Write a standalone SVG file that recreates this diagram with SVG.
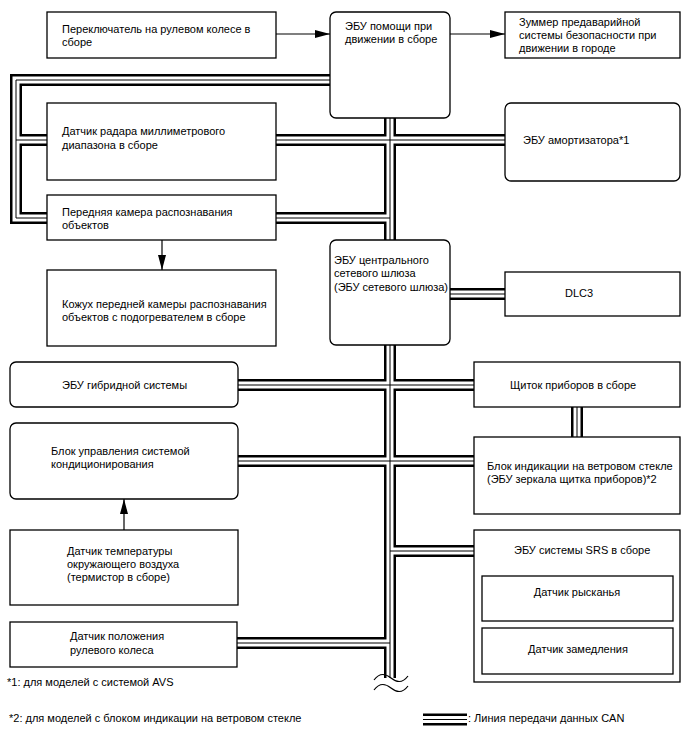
<svg xmlns="http://www.w3.org/2000/svg" xmlns:xlink="http://www.w3.org/1999/xlink" width="688" height="755" viewBox="0 0 688 755">
<style>
.box{fill:#fff;stroke:#000;stroke-width:1.3}
.t{font-family:"Liberation Sans",Arial,sans-serif;font-size:11px;fill:#000}
.tc{text-anchor:middle}
.busO{fill:none;stroke:#000;stroke-width:12}
.busW{fill:none;stroke:#fff;stroke-width:7}
.busC{fill:none;stroke:#000;stroke-width:1}
.wire{fill:none;stroke:#000;stroke-width:1.2}
.brk{fill:none;stroke:#000;stroke-width:1.2}
</style>
<defs>
<marker id="ah" viewBox="0 0 15 8" refX="15" refY="4" markerWidth="15" markerHeight="8" markerUnits="userSpaceOnUse" orient="auto">
<path d="M0,0 L15,4 L0,8 z" fill="#000"/>
</marker>
<g id="can">
<path d="M330,80 H16 V218 H47"/>
<path d="M16,140 H47"/>
<path d="M276,140 H505"/>
<path d="M390,118 V240"/>
<path d="M276,218 H390"/>
<path d="M450,294 H505"/>
<path d="M390,345 V678"/>
<path d="M238,385 H474"/>
<path d="M238,461 H474"/>
<path d="M577,407 V437"/>
<path d="M390,551 H474"/>
<path d="M237,643 H390"/>
<path d="M423,719.5 H467"/>
</g>
</defs>
<g id="connectors">
<use xlink:href="#can" class="busO"/>
<use xlink:href="#can" class="busW"/>
<use xlink:href="#can" class="busC"/>
<path class="wire" d="M276,34 H330" marker-end="url(#ah)"/>
<path class="wire" d="M450,34 H505" marker-end="url(#ah)"/>
<path class="wire" d="M162,240 V270" marker-end="url(#ah)"/>
<path class="wire" d="M124,530 V499" marker-end="url(#ah)"/>
<path class="brk" d="M374,680 C380,672 386,674 391,678 S402,684 408,676"/>
<path class="brk" d="M374,690 C380,682 386,684 391,688 S402,694 408,686"/>
</g>
<g id="n-switch"><rect class="box" x="47" y="12" width="229" height="46"/>
<text class="t" x="62" y="33">Переключатель на рулевом колесе в</text>
<text class="t" x="62" y="46">сборе</text></g>
<g id="n-assist-ecu"><rect class="box" x="330" y="12" width="120" height="106" rx="6"/>
<text class="t" x="345" y="30">ЭБУ помощи при</text>
<text class="t" x="345" y="43">движении в сборе</text></g>
<g id="n-buzzer"><rect class="box" x="505" y="12" width="175" height="46"/>
<text class="t" x="519" y="26">Зуммер предаварийной</text>
<text class="t" x="519" y="39">системы безопасности при</text>
<text class="t" x="519" y="52">движении в городе</text></g>
<g id="n-radar"><rect class="box" x="47" y="103" width="229" height="77"/>
<text class="t" x="62" y="135">Датчик радара миллиметрового</text>
<text class="t" x="62" y="149">диапазона в сборе</text></g>
<g id="n-absorber"><rect class="box" x="505" y="103" width="175" height="78" rx="6"/>
<text class="t" x="523" y="144">ЭБУ амортизатора*1</text></g>
<g id="n-camera"><rect class="box" x="47" y="195" width="229" height="45"/>
<text class="t" x="62" y="216">Передняя камера распознавания</text>
<text class="t" x="62" y="229">объектов</text></g>
<g id="n-cover"><rect class="box" x="47" y="270" width="229" height="76"/>
<text class="t" x="62" y="308">Кожух передней камеры распознавания</text>
<text class="t" x="62" y="321">объектов с подогревателем в сборе</text></g>
<g id="n-gateway"><rect class="box" x="330" y="240" width="120" height="105" rx="6"/>
<text class="t" x="334" y="264">ЭБУ центрального</text>
<text class="t" x="334" y="277">сетевого шлюза</text>
<text class="t" x="334" y="291">(ЭБУ сетевого шлюза)</text></g>
<g id="n-dlc3"><rect class="box" x="505" y="272" width="175" height="44"/>
<text class="t" x="565" y="297">DLC3</text></g>
<g id="n-hybrid"><rect class="box" x="10" y="362" width="228" height="45" rx="6"/>
<text class="t" x="62" y="389">ЭБУ гибридной системы</text></g>
<g id="n-meter"><rect class="box" x="474" y="362" width="206" height="45"/>
<text class="t" x="510" y="389">Щиток приборов в сборе</text></g>
<g id="n-ac"><rect class="box" x="10" y="423" width="228" height="76" rx="6"/>
<text class="t" x="51" y="455">Блок управления системой</text>
<text class="t" x="51" y="468">кондиционирования</text></g>
<g id="n-hud"><rect class="box" x="474" y="437" width="206" height="77"/>
<text class="t" x="487" y="470">Блок индикации на ветровом стекле</text>
<text class="t" x="487" y="483">(ЭБУ зеркала щитка приборов)*2</text></g>
<g id="n-ambient"><rect class="box" x="10" y="530" width="228" height="75"/>
<text class="t" x="67" y="555">Датчик температуры</text>
<text class="t" x="67" y="568">окружающего воздуха</text>
<text class="t" x="67" y="581">(термистор в сборе)</text></g>
<g id="n-srs"><rect class="box" x="474" y="530" width="206" height="152"/>
<text class="t" x="514" y="554">ЭБУ системы SRS в сборе</text>
<g id="n-yaw"><rect class="box" x="482" y="576" width="191" height="45"/>
<text class="t tc" x="577" y="596">Датчик рысканья</text></g>
<g id="n-decel"><rect class="box" x="482" y="628" width="191" height="46"/>
<text class="t tc" x="578" y="653">Датчик замедления</text></g></g>
<g id="n-steering"><rect class="box" x="10" y="622" width="227" height="45"/>
<text class="t" x="70" y="640">Датчик положения</text>
<text class="t" x="70" y="654">рулевого колеса</text></g>
<g id="notes">
<text class="t" x="7" y="686">*1: для моделей с системой AVS</text>
<text class="t" x="9" y="722">*2: для моделей с блоком индикации на ветровом стекле</text>
<text class="t" x="468" y="722">: Линия передачи данных CAN</text>
</g>
</svg>
